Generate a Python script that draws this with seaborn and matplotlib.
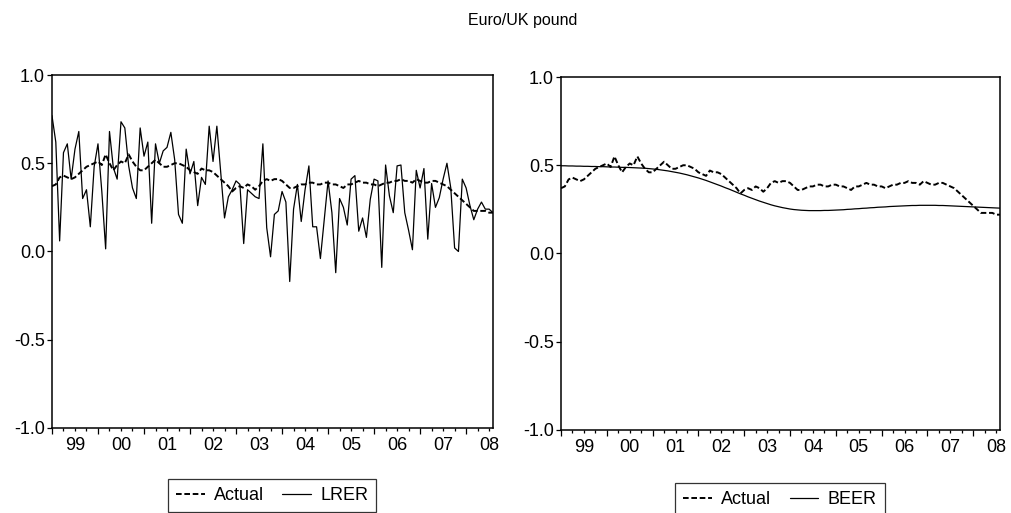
import numpy as np
import matplotlib
matplotlib.use("Agg")
import matplotlib.pyplot as plt
import seaborn as sns
from matplotlib.ticker import FixedLocator, FixedFormatter, NullFormatter

# monthly observations, 1999M01 .. 2008M08
year_labels = ["99", "00", "01", "02", "03", "04", "05", "06", "07", "08"]
months = np.arange(116)

actual = [
    0.37, 0.38, 0.42, 0.43, 0.42, 0.41, 0.42, 0.44, 0.46, 0.48, 0.49, 0.50,
    0.51, 0.49, 0.55, 0.50, 0.46, 0.49, 0.51, 0.50, 0.55, 0.51, 0.48, 0.46,
    0.46, 0.48, 0.50, 0.52, 0.50, 0.48, 0.48, 0.49, 0.50, 0.50, 0.49, 0.48,
    0.46, 0.45, 0.44, 0.47, 0.46, 0.46, 0.45, 0.43, 0.41, 0.39, 0.37, 0.34,
    0.36, 0.37, 0.36, 0.38, 0.37, 0.35, 0.37, 0.40, 0.41, 0.40, 0.41, 0.41,
    0.40, 0.38, 0.36, 0.36, 0.37, 0.38, 0.38, 0.39, 0.39, 0.38, 0.38, 0.39,
    0.39, 0.38, 0.38, 0.37, 0.36, 0.38, 0.38, 0.39, 0.40, 0.39, 0.39, 0.38,
    0.38, 0.37, 0.38, 0.39, 0.39, 0.40, 0.40, 0.41, 0.40, 0.40, 0.39, 0.41,
    0.40, 0.39, 0.39, 0.40, 0.40, 0.39, 0.38, 0.37, 0.35, 0.33, 0.31, 0.29,
    0.27, 0.25, 0.23, 0.23, 0.23, 0.23, 0.22, 0.22,
]

lrer = [
    0.77, 0.62, 0.06, 0.56, 0.61, 0.41, 0.58, 0.68, 0.30, 0.35, 0.14, 0.48,
    0.61, 0.34, 0.015, 0.68, 0.475, 0.41, 0.735, 0.70, 0.485, 0.36, 0.30, 0.70,
    0.54, 0.62, 0.16, 0.61, 0.50, 0.57, 0.59, 0.675, 0.52, 0.21, 0.16, 0.58,
    0.44, 0.51, 0.26, 0.42, 0.38, 0.71, 0.51, 0.71, 0.45, 0.19, 0.31, 0.35,
    0.40, 0.38, 0.045, 0.35, 0.33, 0.31, 0.30, 0.61, 0.135, -0.03, 0.21, 0.23,
    0.34, 0.28, -0.17, 0.24, 0.38, 0.17, 0.35, 0.485, 0.14, 0.14, -0.04, 0.18,
    0.40, 0.22, -0.12, 0.30, 0.25, 0.15, 0.41, 0.43, 0.115, 0.19, 0.08, 0.295,
    0.41, 0.40, -0.09, 0.49, 0.315, 0.22, 0.485, 0.49, 0.22, 0.12, 0.01, 0.46,
    0.36, 0.47, 0.07, 0.385, 0.25, 0.305, 0.41, 0.50, 0.36, 0.02, 0.00, 0.41,
    0.36, 0.26, 0.18, 0.24, 0.28, 0.24, 0.24, 0.22,
]

beer = [
    0.497, 0.497, 0.496, 0.496, 0.495, 0.495, 0.494, 0.494, 0.493, 0.493, 0.492, 0.492,
    0.491, 0.490, 0.490, 0.489, 0.488, 0.488, 0.487, 0.486, 0.485, 0.484, 0.483, 0.481,
    0.479, 0.477, 0.474, 0.471, 0.468, 0.464, 0.460, 0.456, 0.451, 0.446, 0.440, 0.434,
    0.428, 0.421, 0.414, 0.406, 0.398, 0.390, 0.382, 0.373, 0.365, 0.356, 0.347, 0.338,
    0.330, 0.321, 0.313, 0.305, 0.297, 0.290, 0.283, 0.276, 0.270, 0.265, 0.260, 0.256,
    0.252, 0.249, 0.247, 0.245, 0.244, 0.243, 0.243, 0.243, 0.243, 0.244, 0.244, 0.245,
    0.246, 0.247, 0.248, 0.250, 0.251, 0.253, 0.254, 0.256, 0.257, 0.259, 0.260, 0.262,
    0.263, 0.264, 0.266, 0.267, 0.268, 0.269, 0.270, 0.271, 0.272, 0.272, 0.273, 0.273,
    0.273, 0.273, 0.273, 0.272, 0.272, 0.271, 0.270, 0.269, 0.268, 0.267, 0.266, 0.265,
    0.264, 0.263, 0.262, 0.261, 0.260, 0.259, 0.258, 0.257,
]

sns.set_style("white")
plt.rcParams['font.family'] = ['Liberation Sans', 'DejaVu Sans']
plt.rcParams['text.color'] = 'black'
plt.rcParams['xtick.color'] = 'black'
plt.rcParams['ytick.color'] = 'black'
plt.rcParams['axes.labelcolor'] = 'black'

fig = plt.figure(figsize=(10.11, 5.13), dpi=100)
ax_l = fig.add_axes([0.0514, 0.1657, 0.4362, 0.6881])
ax_r = fig.add_axes([0.5549, 0.1618, 0.4342, 0.6881])

dash = (0, (2.9, 1.4))


def style_panel(ax):
    ax.set_xlim(0, 115)
    ax.set_ylim(-1.0, 1.0)
    ax.set_yticks([-1.0, -0.5, 0.0, 0.5, 1.0])
    ax.set_yticklabels(["-1.0", "-0.5", "0.0", "0.5", "1.0"])
    # year boundaries as major ticks, quarters as minor ticks, labels mid-year
    ax.xaxis.set_major_locator(FixedLocator(np.arange(0, 116, 12)))
    ax.xaxis.set_major_formatter(NullFormatter())
    minor_pos = [q for q in range(3, 116, 3) if q % 12 != 0]
    minor_lab = [year_labels[q // 12] if q % 12 == 6 else "" for q in minor_pos]
    ax.xaxis.set_minor_locator(FixedLocator(minor_pos))
    ax.xaxis.set_minor_formatter(FixedFormatter(minor_lab))
    ax.tick_params(axis='x', which='major', direction='out', length=4.3, width=0.9,
                   bottom=True, labelsize=13)
    ax.tick_params(axis='x', which='minor', direction='out', length=2.2, width=0.9,
                   bottom=True, labelsize=13, pad=4.5)
    ax.tick_params(axis='y', direction='out', length=3.6, width=0.9, left=True,
                   labelsize=13, pad=1.5)
    for sp in ax.spines.values():
        sp.set_visible(True)
        sp.set_color('black')
        sp.set_linewidth(1.1)
    ax.set_xlabel("")
    ax.set_ylabel("")


sns.lineplot(x=months, y=actual, ax=ax_l, color='black', linewidth=1.4,
             linestyle=dash, label='Actual')
sns.lineplot(x=months, y=lrer, ax=ax_l, color='black', linewidth=0.9, label='LRER')
sns.lineplot(x=months, y=actual, ax=ax_r, color='black', linewidth=1.4,
             linestyle=dash, label='Actual')
sns.lineplot(x=months, y=beer, ax=ax_r, color='black', linewidth=0.9, label='BEER')

style_panel(ax_l)
style_panel(ax_r)

for ax, cx, top in ((ax_l, 272, 479), (ax_r, 780, 483)):
    leg = ax.legend(loc='upper center', bbox_to_anchor=(cx / 1011, 1 - top / 513),
                    bbox_transform=fig.transFigure, ncol=2, fontsize=13,
                    frameon=True, fancybox=False, edgecolor='black',
                    handlelength=1.6, handletextpad=0.5, columnspacing=1.0,
                    borderpad=0.45, borderaxespad=0)
    leg.get_frame().set_linewidth(0.9)

fig.text(0.517, 0.961, "Euro/UK pound", ha='center', va='center', fontsize=11.5)

fig.savefig("out.png", dpi=100)
